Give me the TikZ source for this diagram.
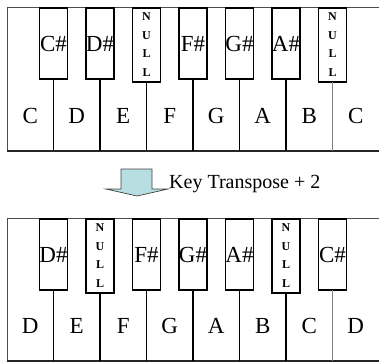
\documentclass[tikz,border=0pt]{standalone}
\usepackage{fontspec}
\setmainfont{Liberation Serif}
\definecolor{arrowblue}{RGB}{183,222,225}
\newcommand\nullstack{\bfseries\fontsize{12}{18.5}\selectfont\begin{tabular}{@{}c@{}}N\\U\\L\\L\end{tabular}}
\begin{document}
\begin{tikzpicture}[x=1pt,y=-1pt,
  blackkey/.style={draw=black,line width=1.6pt,fill=white,minimum width=28.2pt,
    minimum height=71.4pt,inner sep=0pt,outer sep=0pt,anchor=north,
    font=\fontsize{23}{23}\selectfont},
  whitelabel/.style={anchor=base,inner sep=0pt,font=\fontsize{23}{23}\selectfont},
  divider/.style={line width=1.2pt},
  rim/.style={draw=black!70,line width=0.8pt},
  baseline rim/.style={draw=black!85,line width=1.1pt},
  shifter/.style={draw=black!75,line width=0.7pt,fill=arrowblue,line join=miter}]
\useasboundingbox (0,0) rectangle (379,362);

% ---------- upper keyboard ----------
\coordinate (t-tl) at (7,7);
\coordinate (t-tr) at (379,7);
\coordinate (t-bl) at (7,151);
\coordinate (t-br) at (379,151);
\draw[rim] (t-bl) -- (t-tl) -- (t-tr);
\draw[baseline rim] (t-bl) -- (t-br);
\foreach \lab [count=\i] in {C,D,E,F,G,A,B,C}
  \node[whitelabel] (t-w\i) at ({7+46.5*(\i-0.5)},123) {\lab};
\foreach \lab [count=\i] in {C\#,D\#,\nullstack,F\#,G\#,A\#,\nullstack}
  \node[blackkey] (t-b\i) at ({7+46.5*\i},7.8) {\lab};
\foreach \i in {1,...,7}{
  \ifnum\i=7 \def\dcol{black!50}\else\def\dcol{black}\fi
  \draw[divider,draw=\dcol] (t-b\i.south) -- (t-b\i.south |- t-bl);
}

% ---------- transpose arrow ----------
\draw[shifter] (121,169) -- (152,169) -- (152,189) -- (168,189) -- (137,196)
  -- (106,189) -- (121,189) -- cycle;
\node[anchor=base west,inner sep=0pt,font=\fontsize{20}{20}\selectfont]
  (shift) at (169,188) {Key Transpose + 2};

% ---------- lower keyboard ----------
\coordinate (b-tl) at (7,218);
\coordinate (b-tr) at (379,218);
\coordinate (b-bl) at (7,361);
\coordinate (b-br) at (379,361);
\draw[rim] (b-bl) -- (b-tl) -- (b-tr);
\draw[baseline rim] (b-bl) -- (b-br);
\foreach \lab [count=\i] in {D,E,F,G,A,B,C,D}
  \node[whitelabel] (b-w\i) at ({7+46.5*(\i-0.5)},333) {\lab};
\foreach \lab [count=\i] in {D\#,\nullstack,F\#,G\#,A\#,\nullstack,C\#}
  \node[blackkey] (b-b\i) at ({7+46.5*\i},218.8) {\lab};
\foreach \i in {1,...,7}{
  \ifnum\i=7 \def\dcol{black!50}\else\def\dcol{black}\fi
  \draw[divider,draw=\dcol] (b-b\i.south) -- (b-b\i.south |- b-bl);
}
\end{tikzpicture}
\end{document}
